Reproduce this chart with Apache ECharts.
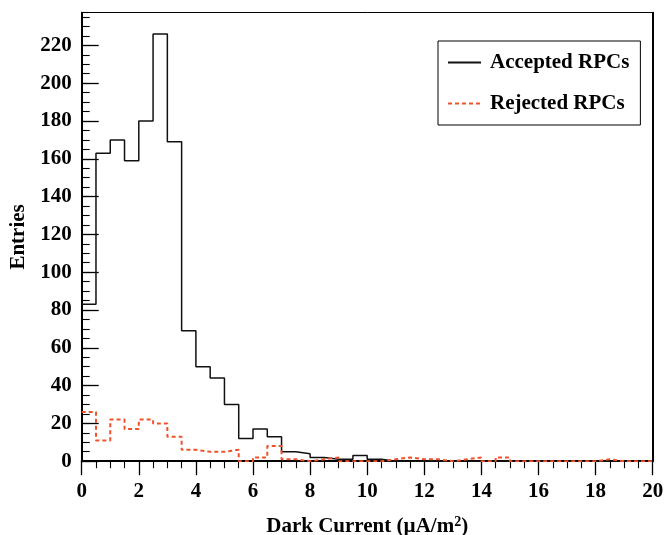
<!DOCTYPE html>
<html>
<head>
<meta charset="utf-8">
<script src="https://cdn.jsdelivr.net/npm/echarts@6/dist/echarts.min.js"></script>
<style>
html, body { margin: 0; padding: 0; background: #fff; }
#chart { width: 665px; height: 535px; }
</style>
</head>
<body>
<div id="chart"></div>
<script>
// Dark current distribution, 0.5 uA/m^2 bins from 0 to 20
const binWidth = 0.5;
const xMin = 0;
const xMax = 20;
const yMax = 237.3;

const seriesNames = ['Accepted RPCs', 'Rejected RPCs'];

// entries per bin
const acceptedCounts = [
  83, 163, 170, 159, 180, 226, 169, 69, 50, 44,
  30, 12, 17, 13, 5, 4, 2, 1, 1, 3,
  1, 0, 0, 0, 0, 0, 0, 0, 0, 0,
  0, 0, 0, 0, 0, 0, 0, 0, 0, 0
];
const rejectedCounts = [
  26, 11, 22, 17, 22, 20, 13, 6, 5, 5,
  6, 0, 2, 8, 1, 0, 1, 2, 0, 0,
  0, 1, 2, 1, 1, 0, 1, 2, 0, 2,
  0, 0, 0, 0, 0, 0, 1, 0, 0, 0
];

const xTickLabels = [0, 2, 4, 6, 8, 10, 12, 14, 16, 18, 20];
const yTickLabels = [0, 20, 40, 60, 80, 100, 120, 140, 160, 180, 200, 220];

const serif = '"Liberation Serif", "DejaVu Serif", serif';

// step outline: each bin starts at its lower edge, final point closes at the upper edge
function histPoints(counts) {
  const pts = counts.map((v, i) => [xMin + i * binWidth, v]);
  pts.push([xMin + counts.length * binWidth, counts[counts.length - 1]]);
  return pts;
}

const labelFont = { fontFamily: serif, fontWeight: 'bold', fontSize: 21, color: '#000' };

const chart = echarts.init(document.getElementById('chart'), null, { renderer: 'canvas' });

chart.setOption({
  animation: false,
  backgroundColor: '#fff',
  grid: {
    left: 81.7, right: 12.3, top: 12.7, bottom: 73.8,
    containLabel: false,
    outerBoundsMode: 'none'
  },
  legend: {
    data: seriesNames,
    orient: 'vertical',
    left: 438,
    top: 41,
    padding: [11, 11, 11, 9],
    itemWidth: 33,
    itemHeight: 20,
    itemGap: 20,
    borderColor: '#000',
    borderWidth: 1,
    backgroundColor: '#fff',
    itemStyle: { opacity: 0 },
    textStyle: Object.assign({ padding: [0, 0, 0, 4] }, labelFont)
  },
  xAxis: [
    {
      type: 'value',
      position: 'bottom',
      min: xMin,
      max: xMax,
      interval: 2,
      axisLine: { onZero: false, lineStyle: { color: '#000', width: 2 } },
      axisTick: { inside: false, length: 14, lineStyle: { color: '#000', width: 1.3 } },
      minorTick: { show: true, splitNumber: 4, length: 7, lineStyle: { color: '#000', width: 1.1 } },
      splitLine: { show: false },
      axisLabel: Object.assign({
        margin: 20,
        formatter: v => (xTickLabels.indexOf(v) >= 0 ? String(v) : '')
      }, labelFont),
      name: '{t|Dark Current (}{t|\u00b5A/m}{s|2}{t|)}',
      nameLocation: 'middle',
      nameGap: 54,
      nameTextStyle: {
        rich: {
          t: { fontFamily: serif, fontWeight: 'bold', fontSize: 21, color: '#000' },
          s: { fontFamily: serif, fontWeight: 'bold', fontSize: 14, color: '#000', padding: [0, 0, 9, 0] }
        }
      }
    },
    {
      type: 'value',
      position: 'top',
      min: xMin,
      max: xMax,
      axisLine: { onZero: false, lineStyle: { color: '#000', width: 1 } },
      axisTick: { show: false },
      axisLabel: { show: false },
      splitLine: { show: false }
    }
  ],
  yAxis: [
    {
      type: 'value',
      position: 'left',
      min: 0,
      max: yMax,
      interval: 20,
      axisLine: { onZero: false, lineStyle: { color: '#000', width: 2 } },
      axisTick: { inside: true, length: 17, lineStyle: { color: '#000', width: 1.3 } },
      splitLine: { show: false },
      axisLabel: Object.assign({
        margin: 10,
        showMaxLabel: false,
        formatter: v => (yTickLabels.indexOf(v) >= 0 ? String(v) : '')
      }, labelFont),
      name: 'Entries',
      nameLocation: 'middle',
      nameGap: 52,
      nameTextStyle: labelFont
    },
    {
      // short ticks every 5 entries
      type: 'value',
      position: 'left',
      min: 0,
      max: yMax,
      interval: 5,
      axisLine: { show: false },
      axisTick: { inside: true, length: 8, lineStyle: { color: '#000', width: 1.1 } },
      axisLabel: { show: false },
      splitLine: { show: false }
    },
    {
      type: 'value',
      position: 'right',
      min: 0,
      max: yMax,
      axisLine: { show: true, onZero: false, lineStyle: { color: '#000', width: 2 } },
      axisTick: { show: false },
      axisLabel: { show: false },
      splitLine: { show: false }
    }
  ],
  series: [
    {
      name: seriesNames[0],
      type: 'line',
      xAxisIndex: 0,
      yAxisIndex: 0,
      step: 'end',
      symbol: 'none',
      data: histPoints(acceptedCounts),
      lineStyle: { color: '#111', width: 1.5 },
      itemStyle: { color: '#111' },
      z: 2
    },
    {
      name: seriesNames[1],
      type: 'line',
      xAxisIndex: 0,
      yAxisIndex: 0,
      step: 'end',
      symbol: 'none',
      data: histPoints(rejectedCounts),
      lineStyle: { color: '#f0522a', width: 2, type: [4, 3] },
      itemStyle: { color: '#f0522a' },
      z: 3
    }
  ]
});
</script>
</body>
</html>
